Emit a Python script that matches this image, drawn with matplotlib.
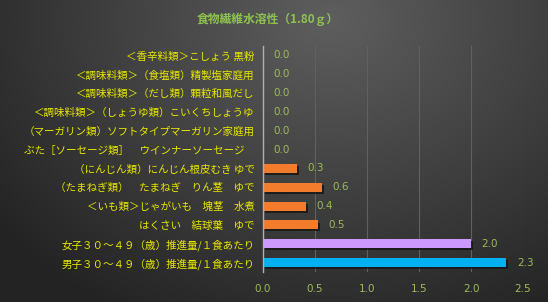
import numpy as np
import matplotlib
matplotlib.use("Agg")
import matplotlib.pyplot as plt
import matplotlib.patheffects as pe

plt.rcParams['font.family'] = ['Noto Sans CJK JP', 'DejaVu Sans']

# data, top to bottom as shown
labels = [
    "＜香辛料類＞こしょう 黒粉",
    "＜調味料類＞（食塩類）精製塩家庭用",
    "＜調味料類＞（だし類）顆粒和風だし",
    "＜調味料類＞（しょうゆ類）こいくちしょうゆ",
    "（マーガリン類）ソフトタイプマーガリン家庭用",
    "ぶた［ソーセージ類］　ウインナーソーセージ　",
    "（にんじん類）にんじん根皮むき ゆで",
    "（たまねぎ類）　たまねぎ　りん茎　ゆで",
    "＜いも類＞じゃがいも　塊茎　水煮",
    "はくさい　結球葉　ゆで",
    "女子３０～４９（歳）推進量/１食あたり",
    "男子３０～４９（歳）推進量/１食あたり",
]
values = [0.0, 0.0, 0.0, 0.0, 0.0, 0.0, 0.33, 0.57, 0.41, 0.53, 2.0, 2.34]
bar_colors = ["#f27b2c"] * 10 + ["#cc99ff", "#00b0f0"]
title = "食物繊維水溶性（1.80ｇ）"
x_ticks = [0.0, 0.5, 1.0, 1.5, 2.0, 2.5]

label_color = "#e8e800"
num_color = "#9bbb59"

fig = plt.figure(figsize=(5.48, 3.02), dpi=100)

# background gradient (lighter at top centre)
bg = fig.add_axes([0, 0, 1, 1], zorder=-10)
yy, xx = np.mgrid[0:302, 0:548]
d = np.sqrt(((xx - 330) / 400.0) ** 2 + ((yy - 20) / 320.0) ** 2)
shade = np.clip(0.37 - 0.22 * d, 0.14, 0.37)
bg.imshow(np.dstack([shade] * 3), aspect='auto', extent=[0, 1, 0, 1])
bg.axis('off')

ax = fig.add_axes([263 / 548, 30 / 302, 260 / 548, 226 / 302])
ax.patch.set_alpha(0)

y = np.arange(len(labels))
ax.barh(y, values, height=0.47, color=bar_colors, zorder=3,
        path_effects=[pe.SimplePatchShadow(offset=(1.5, -1.5), shadow_rgbFace='#151515', alpha=0.8),
                      pe.Normal()])
for yi, v in zip(y, values):
    ax.text(v + 0.1, yi, f"{v:.1f}", va='center', ha='left', color=num_color, fontsize=7.5,
            family=['DejaVu Sans'])

ax.set_ylim(len(labels) - 0.5, -0.5)
ax.set_xlim(0, 2.5)
ax.set_yticks(y)
ax.set_yticklabels(labels, color=label_color, fontsize=7.6)
ax.set_xticks(x_ticks)
ax.set_xticklabels([f"{t:.1f}" for t in x_ticks], color=num_color, fontsize=7.5, family=['DejaVu Sans'])
ax.tick_params(axis='both', length=0)
ax.tick_params(axis='x', pad=9)
ax.tick_params(axis='y', pad=6)
ax.grid(axis='x', color='#606060', linewidth=0.8, zorder=0)
for s in ['top', 'right', 'bottom']:
    ax.spines[s].set_visible(False)
ax.spines['left'].set_color('#b0b0b0')
ax.spines['left'].set_linewidth(1)
ax.spines['left'].set_zorder(4)

fig.text(268 / 548, 1 - 19 / 302, title, ha='center', va='center', color='#8fc351', fontsize=8.5,
         fontweight='bold')

fig.savefig("out.png", dpi=100)
